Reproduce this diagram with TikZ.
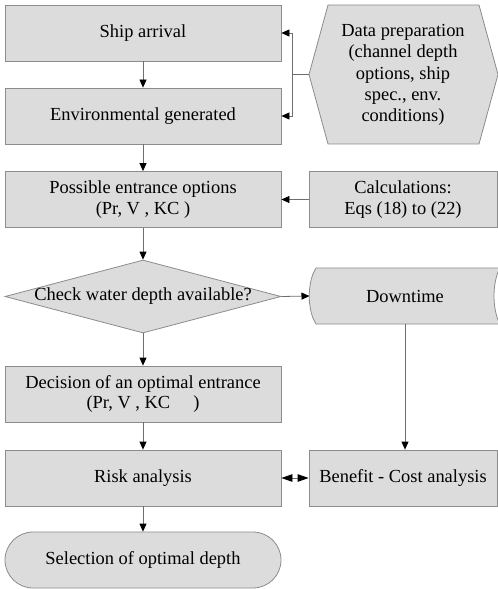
\documentclass[tikz,border=0pt]{standalone}
\usepackage{fontspec}
\setmainfont{Liberation Serif}
\usetikzlibrary{arrows.meta,shapes.geometric}
\definecolor{boxfill}{HTML}{DCDCDC}
\definecolor{boxline}{HTML}{8C8C8C}
\definecolor{conn}{HTML}{6E6E6E}
\begin{document}
\begin{tikzpicture}[x=1bp,y=-1bp,
  font=\fontsize{18.5}{20.5}\selectfont,
  box/.style={draw=boxline,fill=boxfill,line width=0.8bp,minimum width=276bp,minimum height=56bp,align=center,inner sep=0pt},
  rbox/.style={draw=boxline,fill=boxfill,line width=0.8bp,minimum width=188bp,minimum height=56bp,align=center,inner sep=0pt},
  shp/.style={draw=boxline,fill=boxfill,line width=0.8bp},
  conn/.style={draw=conn,line width=0.8bp,-{Triangle[length=8bp,width=7bp,black]}},
  dconn/.style={draw=conn,line width=0.8bp,{Triangle[length=11bp,width=7.5bp,black]}-{Triangle[length=11bp,width=7.5bp,black]}},
  plain/.style={draw=conn,line width=0.8bp}]
\useasboundingbox (0,0) rectangle (498,589);
\clip (0,0) rectangle (498,589);
% left column
\node[box] (ship) at (143,33) {Ship arrival};
\node[box] (env) at (143,116) {Environmental generated};
\node[box] (poss) at (143,199.5) {Possible entrance options\\(Pr, V , KC )};
\node[diamond,aspect=3.78,draw=boxline,fill=boxfill,line width=0.8bp,inner sep=0pt,minimum width=276bp,minimum height=73bp] (check) at (143,296.5) {};
\node at (check.center) {Check water depth available?};
\node[box] (dec) at (143,394) {Decision of an optimal entrance\\(Pr, V , KC \quad)};
\node[box] (risk) at (143,478) {Risk analysis};
\node[box,rounded corners=28bp] (sel) at (143,560) {Selection of optimal depth};
% right column
\draw[shp] (309,74.5) -- (328,5) -- (479,5) -- (498,74.5) -- (479,144) -- (328,144) -- cycle;
\coordinate (dataL) at (309,74.5);
\node[align=center,font=\fontsize{18.5}{21.3}\selectfont] (data) at (403,75) {Data preparation\\(channel depth\\options, ship\\spec., env.\\conditions)};
\node[rbox] (calc) at (403,199.5) {Calculations:\\Eqs (18) to (22)};
\draw[shp] (316,268) -- (500,268) .. controls (492,282) and (492,310) .. (500,324) -- (316,324) .. controls (307,310) and (307,282) .. (316,268) -- cycle;
\node (down) at (405,296) {Downtime};
\coordinate (downB) at (405,324);
\coordinate (downL) at (309.5,296);
\node[rbox] (ben) at (403,478) {Benefit - Cost analysis};
% connectors
\coordinate (br) at (292,74.5);
\draw[conn] (ship) -- (env);
\draw[conn] (env) -- (poss);
\draw[conn] (poss) -- (check);
\draw[conn] (check) -- (dec);
\draw[conn] (dec) -- (risk);
\draw[conn] (risk) -- (sel);
\draw[plain] (dataL) -- (br);
\draw[conn] (br) |- (ship.east);
\draw[conn] (br) |- (env.east);
\draw[conn] (calc) -- (poss);
\draw[conn] (check.east) -- (downL);
\draw[conn] (downB) -- (ben.north -| downB);
\draw[dconn] (risk) -- (ben);
\end{tikzpicture}
\end{document}
